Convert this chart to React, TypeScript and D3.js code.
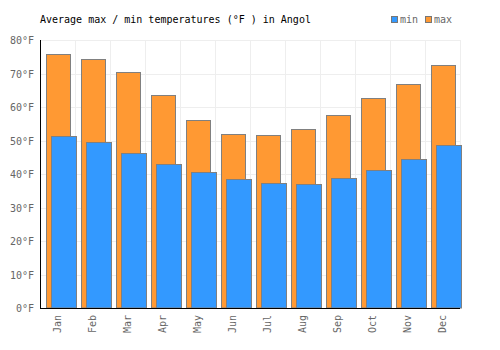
import React from "react";
import * as d3 from "d3";

const months = ["Jan","Feb","Mar","Apr","May","Jun","Jul","Aug","Sep","Oct","Nov","Dec"];
const maxTemps = [75.7,74.4,70.3,63.5,56.0,51.9,51.5,53.3,57.5,62.6,66.8,72.4];
const minTemps = [51.2,49.5,46.2,42.9,40.5,38.4,37.3,37.0,38.7,41.1,44.4,48.6];
const yTicks = [0,10,20,30,40,50,60,70,80];
const title = "Average max / min temperatures (°F ) in Angol";

export default function App() {
  const W = 500, H = 350;
  const left = 40, right = 460, top = 40, bottom = 308;
  const x = d3.scaleBand<string>().domain(months).range([left, right]).padding(0);
  const y = d3.scaleLinear().domain([0, 80]).range([bottom, top]);
  const bw = x.bandwidth();
  const font = "'DejaVu Sans Mono', monospace";
  const maxW = bw * 0.686, minW = bw * 0.714;
  return (
    <svg width={W} height={H} style={{ position: "absolute", left: 0, top: 0, background: "#fff" }}>
      <text x={40} y={23} fontFamily={font} fontSize={10} fill="#000">{title}</text>
      <rect x={391.5} y={16.5} width={6} height={6} fill="#3399ff" stroke="#777" />
      <text x={400} y={23} fontFamily={font} fontSize={10} fill="#666">min</text>
      <rect x={425.5} y={16.5} width={6} height={6} fill="#ff9933" stroke="#777" />
      <text x={434} y={23} fontFamily={font} fontSize={10} fill="#666">max</text>
      {yTicks.map(t => (
        <line key={"h" + t} x1={left} x2={right} y1={Math.round(y(t)) + 0.5} y2={Math.round(y(t)) + 0.5} stroke="#eeeeee" />
      ))}
      {months.map((m, i) => (
        <line key={"v" + m} x1={Math.round((x(m) as number) + bw) + 0.5} x2={Math.round((x(m) as number) + bw) + 0.5} y1={top} y2={bottom} stroke="#eeeeee" />
      ))}
      {months.map((m, i) => {
        const x0 = Math.round((x(m) as number) + bw * 0.171) + 0.5;
        const yt = Math.round(y(maxTemps[i])) + 0.5;
        return <rect key={"mx" + m} x={x0} y={yt} width={Math.round(maxW)} height={bottom - yt} fill="#ff9933" stroke="#808080" />;
      })}
      {months.map((m, i) => {
        const x0 = Math.round((x(m) as number) + bw * 0.314) + 0.5;
        const yt = Math.round(y(minTemps[i])) + 0.5;
        return <rect key={"mn" + m} x={x0} y={yt} width={Math.round(minW)} height={bottom - yt} fill="#3399ff" stroke="#808080" />;
      })}
      <line x1={left + 0.5} x2={left + 0.5} y1={top} y2={bottom + 0.5} stroke="#000" />
      <line x1={left} x2={right} y1={bottom + 0.5} y2={bottom + 0.5} stroke="#000" />
      {yTicks.map(t => (
        <text key={"yt" + t} x={34} y={y(t) + 4} textAnchor="end" fontFamily={font} fontSize={10} fill="#666">{t}°F</text>
      ))}
      {months.map(m => {
        const cx = (x(m) as number) + bw / 2 + 3.5;
        return (
          <text key={"xl" + m} transform={`translate(${cx},315) rotate(-90)`} textAnchor="end" fontFamily={font} fontSize={10} fill="#666">{m}</text>
        );
      })}
    </svg>
  );
}
